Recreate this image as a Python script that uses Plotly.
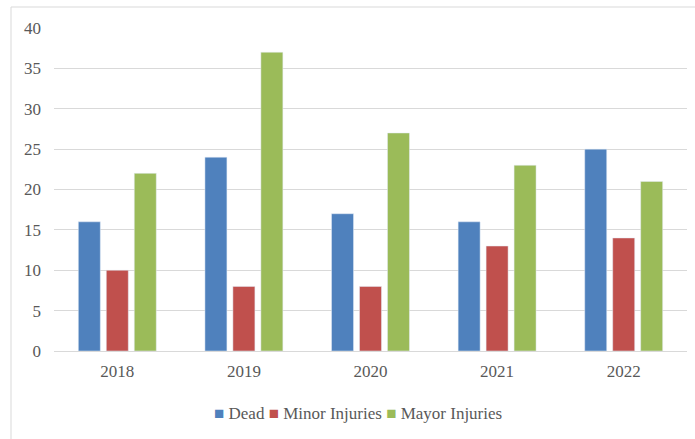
import plotly.graph_objects as go

years = ["2018", "2019", "2020", "2021", "2022"]
dead = [16, 24, 17, 16, 25]
minor_injuries = [10, 8, 8, 13, 14]
mayor_injuries = [22, 37, 27, 23, 21]

series = [
    ("Dead", dead, "#4F81BD"),
    ("Minor Injuries", minor_injuries, "#C0504D"),
    ("Mayor Injuries", mayor_injuries, "#9BBB59"),
]

W, H = 695, 439
L, R, T, B = 54, 8, 28, 88
PW, PH = W - L - R, H - T - B

font_serif = "Times New Roman, Liberation Serif, DejaVu Serif, serif"

fig = go.Figure()
for name, vals, color in series:
    fig.add_bar(x=years, y=vals, name=name, marker_color=color)

# compact legend row: coloured squares followed by the series names
legend_text = " ".join(
    f'<span style="color:{c}">■</span> {n}' for n, _, c in series
)

fig.update_layout(
    width=W, height=H,
    margin=dict(l=L, r=R, t=T, b=B, autoexpand=False),
    barmode="group",
    bargap=0.337,
    bargroupgap=0.214,
    plot_bgcolor="white",
    paper_bgcolor="white",
    font=dict(family=font_serif, color="#595959", size=17),
    showlegend=False,
    xaxis=dict(
        showgrid=False,
        showline=True, linecolor="#D9D9D9", linewidth=1,
        ticks="", ticklabelstandoff=5,
        tickfont=dict(family=font_serif, size=17, color="#595959"),
        automargin=False,
    ),
    yaxis=dict(
        range=[0, 40], dtick=5,
        showgrid=True, gridcolor="#D9D9D9", gridwidth=1,
        zeroline=False, showline=False,
        ticks="", ticklabelstandoff=12,
        tickfont=dict(family=font_serif, size=17, color="#595959"),
        automargin=False,
    ),
    annotations=[
        dict(text=legend_text, xref="paper", yref="paper",
             x=(358 - L) / PW, y=-(413 - (H - B)) / PH,
             xanchor="center", yanchor="middle", showarrow=False,
             font=dict(family=font_serif, size=17, color="#595959")),
    ],
    shapes=[
        dict(type="line", xref="paper", yref="paper",
             x0=(11 - L) / PW, x1=1.2,
             y0=(H - B - 7) / PH, y1=(H - B - 7) / PH,
             line=dict(color="#D9D9D9", width=1)),
        dict(type="line", xref="paper", yref="paper",
             x0=(11 - L) / PW, x1=(11 - L) / PW,
             y0=(H - B - 7) / PH, y1=-1,
             line=dict(color="#D9D9D9", width=1)),
    ],
)

fig.write_html("out.html")
